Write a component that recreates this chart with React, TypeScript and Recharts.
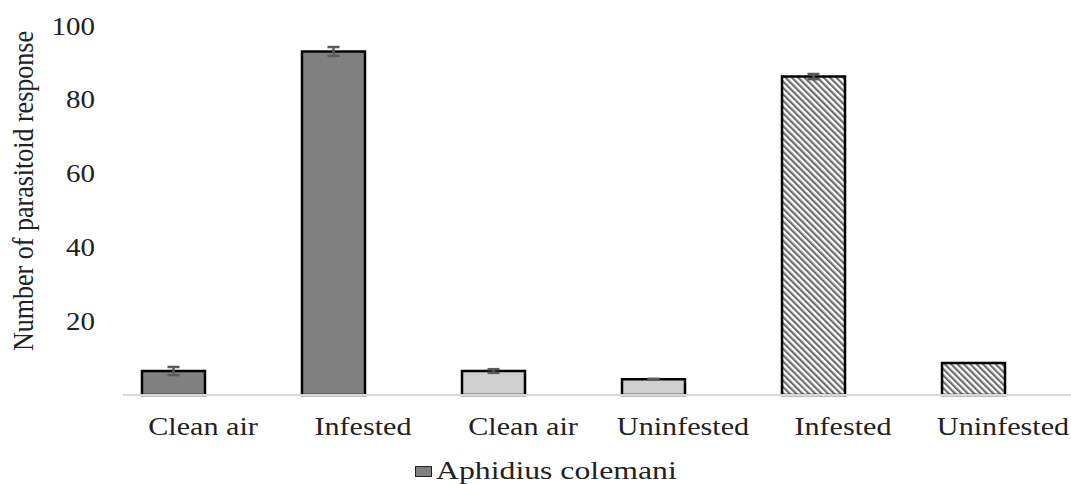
import { BarChart, Bar, XAxis, YAxis, ErrorBar, Cell } from "recharts";

// ─── Data ──────────────────────────────────────────────────────────────────

const categories = ["Clean air", "Infested", "Clean air", "Uninfested", "Infested", "Uninfested"];
const responses = [6.5, 93.1, 6.5, 4.3, 86.3, 8.7];
const errors = [1.1, 1.2, 0.5, 0.1, 0.7, 0];
const yTicks = [0, 20, 40, 60, 80, 100];
const seriesName = "Aphidius colemani";

const data = categories.map((c, i) => ({ key: `${c}-${i}`, label: c, value: responses[i], err: errors[i] }));

// bar styles, index aligned with categories
const FILLS = ["#808080", "#808080", "#d0d0d0", "#d0d0d0", "url(#hatch)", "url(#hatch)"];

const FONT = "'Liberation Serif', 'Times New Roman', serif";
const STRETCH = 1.16; // the reference is stretched horizontally

// ─── Ticks ─────────────────────────────────────────────────────────────────

function CategoryTick({ x, y, payload }: { x?: number; y?: number; payload?: { value: string; index: number } }) {
  if (x == null || y == null || !payload) return null;
  const label = categories[payload.index] ?? payload.value;
  return (
    <text
      transform={`translate(${x},${y + 32}) scale(${STRETCH},1)`}
      textAnchor="middle"
      fill="#222"
      fontSize={26}
      fontFamily={FONT}
    >
      {label}
    </text>
  );
}

function ValueTick({ x, y, payload }: { x?: number; y?: number; payload?: { value: number } }) {
  if (x == null || y == null || !payload || payload.value === 0) return null;
  return (
    <text
      transform={`translate(${x},${y + 8.5}) scale(${STRETCH},1)`}
      textAnchor="end"
      fill="#222"
      fontSize={25}
      fontFamily={FONT}
    >
      {payload.value}
    </text>
  );
}

function AxisTitle() {
  return (
    <text
      transform="translate(33,191) rotate(-90) scale(1,1.1)"
      textAnchor="middle"
      fill="#222"
      fontSize={26}
      fontFamily={FONT}
    >
      Number of parasitoid response
    </text>
  );
}

// ─── Main ──────────────────────────────────────────────────────────────────

export default function App() {
  return (
    <div style={{ position: "absolute", left: 0, top: 0, width: 1071, height: 484, overflow: "hidden", background: "#fff" }}>
      <BarChart
        width={1100}
        height={484}
        data={data}
        margin={{ top: 26, right: 17, bottom: 39, left: 95 }}
        barGap={0}
      >
        <defs>
          <pattern id="hatch" patternUnits="userSpaceOnUse" width={4.5} height={4.5} patternTransform="rotate(-45)">
            <rect width={4.5} height={4.5} fill="#fff" />
            <line x1={1.1} y1={0} x2={1.1} y2={4.5} stroke="#6e6e6e" strokeWidth={2.2} />
          </pattern>
        </defs>
        <XAxis
          dataKey="key"
          height={50}
          tick={<CategoryTick />}
          tickLine={false}
          tickMargin={2}
          interval={0}
          axisLine={{ stroke: "#d9d9d9", strokeWidth: 2 }}
        />
        <YAxis
          width={28}
          domain={[0, 100]}
          ticks={yTicks}
          tick={<ValueTick />}
          tickLine={false}
          tickMargin={22}
          axisLine={false}
          label={<AxisTitle />}
        />
        <Bar dataKey="value" name={seriesName} barSize={63} stroke="#000" strokeWidth={2.5} isAnimationActive={false}>
          {data.map((d, i) => (
            <Cell key={d.key} fill={FILLS[i]} />
          ))}
          <ErrorBar dataKey="err" width={6} stroke="#5a5a5a" strokeWidth={2.5} />
        </Bar>
        {/* empty companion bar: keeps the real bars left of the label centres, as in the reference */}
        <Bar dataKey={() => 0} barSize={60} fill="transparent" legendType="none" isAnimationActive={false} />
      </BarChart>
      <div
        style={{
          position: "absolute",
          left: 415,
          top: 457,
          display: "flex",
          alignItems: "center",
          fontFamily: FONT,
          fontSize: 25,
          color: "#222",
          whiteSpace: "nowrap",
        }}
      >
        <span style={{ display: "inline-block", width: 15, height: 9, background: "#808080", border: "1.5px solid #222", marginRight: 4 }} />
        <span style={{ display: "inline-block", transform: "scaleX(1.27)", transformOrigin: "left center" }}>{seriesName}</span>
      </div>
    </div>
  );
}
